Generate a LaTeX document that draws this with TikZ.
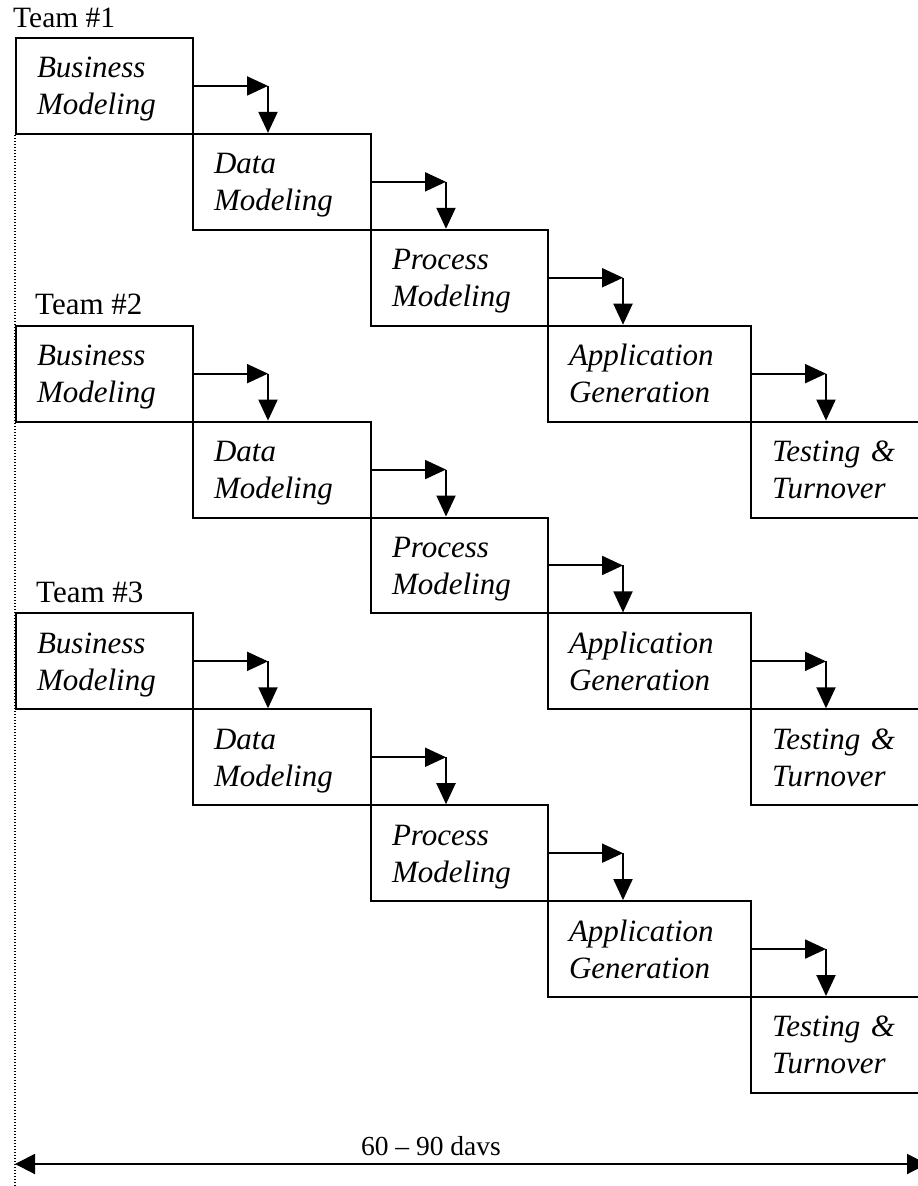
\documentclass[tikz,border=0pt]{standalone}
\usepackage{fontspec}
\setmainfont{Liberation Serif}
\usetikzlibrary{arrows.meta,calc}
\tikzset{
  stage/.style={draw, line width=2pt, anchor=north west, align=left,
    inner xsep=21pt, inner ysep=0pt, minimum height=95.9pt,
    text height=22pt, text depth=38pt,
    font=\fontsize{31}{37}\selectfont\itshape},
  flow/.style={line width=2pt, -{Triangle[length=21pt,width=19pt]}},
  span/.style={line width=2pt,
    {Triangle[length=20pt,width=20pt]}-{Triangle[length=20pt,width=20pt]}},
  timeline/.style={line width=1.5pt, dash pattern=on 1.5pt off 1.5pt},
  teamlabel/.style={anchor=base west, inner sep=0pt},
}
\begin{document}
\begin{tikzpicture}[x=1pt, y=-1pt]
  \useasboundingbox (0,0) rectangle (918,1186);
  \clip (0,0) rectangle (918,1186);

  % three teams, each a staircase of five stages
  \foreach \t/\r in {1/0, 2/3, 3/6} {
    \foreach \c/\x/\w/\txt in {
        1/15/177/{Business\\Modeling},
        2/192/178/{Data\\Modeling},
        3/370/177/{Process\\Modeling},
        4/547/203/{Application\\Generation},
        5/750/190/{Testing \&\\Turnover}} {
      \pgfmathsetmacro\tw{\w-42}
      \node[stage, minimum width=\w pt, text width=\tw pt]
        (t\t-\c) at (\x, {37+95.9*(\r+\c-1)}) {\txt};
    }
  }

  % hand-over arrows between consecutive stages
  \foreach \t in {1,2,3} {
    \foreach \c in {1,2,3,4} {
      \pgfmathtruncatemacro\n{\c+1}
      \coordinate (k\t-\c) at ($(t\t-\n.north west |- t\t-\c.east)+(76,0)$);
      \draw[flow] (t\t-\c.east) -- (k\t-\c);
      \draw[flow] (k\t-\c) -- (k\t-\c |- t\t-\n.north);
    }
  }

  % team labels
  \node[teamlabel, font=\fontsize{29.5}{34}\selectfont] (team1)
    at ($(t1-1.north west)+(-2,-10)$) {Team \#1};
  \node[teamlabel, font=\fontsize{31}{36}\selectfont] (team2)
    at ($(t2-1.north west)+(20,-10)$) {Team \#2};
  \node[teamlabel, font=\fontsize{31}{36}\selectfont] (team3)
    at ($(t3-1.north west)+(21,-10)$) {Team \#3};

  % time line on the left edge
  \coordinate (lbot) at (15,1186);
  \draw[timeline] (t1-1.south west) -- (lbot);

  % overall duration
  \coordinate (sl) at (15,1164);
  \coordinate (sr) at (927,1164);
  \draw[span] (sl) -- (sr);
  \node[anchor=base, inner sep=0pt, font=\fontsize{27.5}{32}\selectfont] (dur)
    at (431,1155) {60 \textendash{} 90 davs};
\end{tikzpicture}
\end{document}
